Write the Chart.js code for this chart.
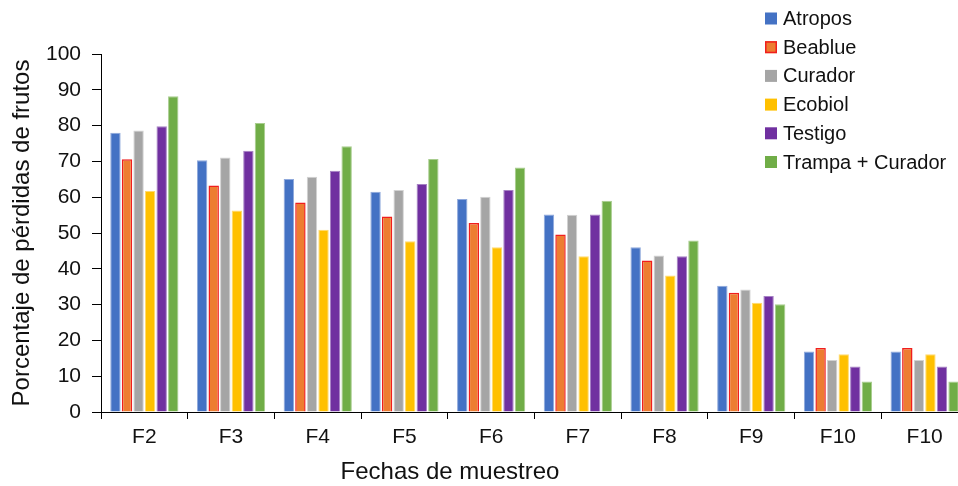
<!DOCTYPE html>
<html>
<head>
<meta charset="utf-8">
<script src="https://cdn.jsdelivr.net/npm/chart.js@4.4.1/dist/chart.umd.min.js"></script>
<style>
  html, body { margin: 0; padding: 0; background: #fff; overflow: hidden; }
  #clip { width: 958px; height: 486px; overflow: hidden; }
  #wrap { width: 969px; height: 486px; }
</style>
</head>
<body>
<div id="clip"><div id="wrap"><canvas id="myChart"></canvas></div></div>
<script>
var fechas = ['F2', 'F3', 'F4', 'F5', 'F6', 'F7', 'F8', 'F9', 'F10', 'F10'];
var yTicks = [0, 10, 20, 30, 40, 50, 60, 70, 80, 90, 100];

var atropos = [78.0, 70.3, 65.1, 61.5, 59.5, 55.2, 46.0, 35.3, 16.9, 16.9];
var beablue = [70.6, 63.3, 58.5, 54.6, 52.8, 49.6, 42.3, 33.3, 17.9, 17.9];
var curador = [78.6, 71.1, 65.7, 62.0, 60.1, 55.1, 43.7, 34.2, 14.5, 14.5];
var ecobiol = [61.7, 56.3, 50.9, 47.7, 46.0, 43.5, 38.1, 30.5, 16.1, 16.1];
var testigo = [79.8, 73.0, 67.4, 63.7, 62.0, 55.2, 43.5, 32.4, 12.7, 12.7];
var trampaCurador = [88.2, 80.7, 74.2, 70.7, 68.3, 59.0, 47.9, 30.1, 8.5, 8.5];

var xTitulo = 'Fechas de muestreo';
var yTitulo = 'Porcentaje de pérdidas de frutos';

var textColor = '#111';
var fontFamily = '"Liberation Sans", Arial, sans-serif';

function serie(label, data, fill, border, bw) {
  return {
    label: label,
    data: data,
    backgroundColor: fill,
    borderColor: border,
    borderWidth: bw,
    categoryPercentage: 0.8,
    barPercentage: 0.9
  };
}

// legend over the plot + x title moved left, like the Excel original
var legendaExcel = {
  id: 'legendaExcel',
  afterDraw: function (chart) {
    var ctx = chart.ctx;
    ctx.save();
    ctx.font = '20px ' + fontFamily;
    ctx.textBaseline = 'middle';
    chart.data.datasets.forEach(function (ds, i) {
      var y = 18.5 + i * 28.7;
      ctx.fillStyle = ds.backgroundColor;
      ctx.fillRect(765, y - 6, 12, 12);
      if (ds.label === 'Beablue') {
        ctx.strokeStyle = ds.borderColor;
        ctx.lineWidth = 1.5;
        ctx.strokeRect(765.75, y - 5.25, 10.5, 10.5);
      }
      ctx.fillStyle = textColor;
      ctx.fillText(ds.label, 783, y + 1);
    });
    ctx.font = '24px ' + fontFamily;
    ctx.textAlign = 'center';
    ctx.fillText(xTitulo, 450, 472);
    ctx.restore();
  }
};

new Chart(document.getElementById('myChart'), {
  type: 'bar',
  data: {
    labels: fechas,
    datasets: [
      serie('Atropos', atropos, '#4472C4', '#8fa9dc', 1),
      serie('Beablue', beablue, '#ED7D31', '#f01e1e', 1.5),
      serie('Curador', curador, '#A5A5A5', '#d2d2d2', 1),
      serie('Ecobiol', ecobiol, '#FFC000', '#ffda70', 1),
      serie('Testigo', testigo, '#7030A0', '#a682c4', 1),
      serie('Trampa + Curador', trampaCurador, '#70AD47', '#a8cd8e', 1)
    ]
  },
  options: {
    responsive: true,
    maintainAspectRatio: false,
    animation: false,
    layout: { padding: { top: 54, right: 1, left: 0, bottom: 0 } },
    plugins: {
      legend: { display: false },
      tooltip: { enabled: false }
    },
    scales: {
      x: {
        grid: { display: true, drawOnChartArea: false, drawTicks: true, tickLength: 7, color: '#000', offset: true },
        border: { display: true, color: '#000', width: 1 },
        ticks: { color: textColor, font: { family: fontFamily, size: 21 }, padding: 6, maxRotation: 0, autoSkip: false },
        title: { display: false },
        afterFit: function (scale) { scale.height = 74; }
      },
      y: {
        min: 0,
        max: 100,
        afterBuildTicks: function (scale) {
          scale.ticks = yTicks.map(function (v) { return { value: v }; });
        },
        grid: { display: true, drawOnChartArea: false, drawTicks: true, tickLength: 9, color: '#000' },
        border: { display: true, color: '#000', width: 1 },
        ticks: { color: textColor, font: { family: fontFamily, size: 21 }, padding: 11 },
        title: { display: true, text: yTitulo, color: textColor, font: { family: fontFamily, size: 24 }, padding: { top: 8, bottom: 0 } },
        afterFit: function (scale) { scale.width = 101; }
      }
    }
  },
  plugins: [legendaExcel]
});
</script>
</body>
</html>
